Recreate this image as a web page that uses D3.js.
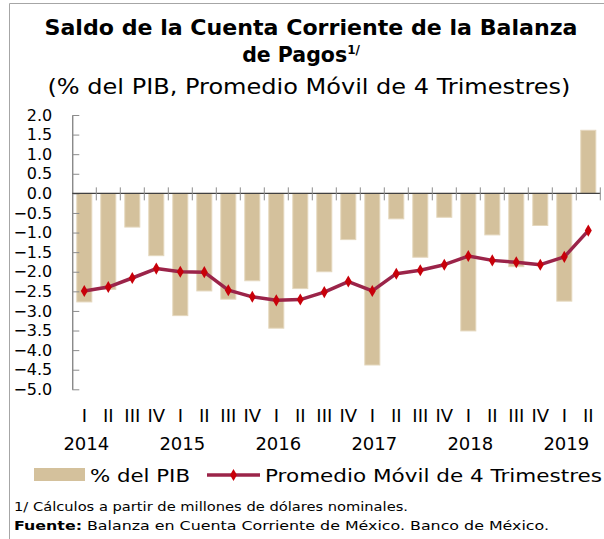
<!DOCTYPE html>
<html>
<head>
<meta charset="utf-8">
<script src="https://cdn.jsdelivr.net/npm/d3@7"></script>
<style>
  html, body { margin: 0; padding: 0; background: #fff; }
  svg { display: block; font-family: "DejaVu Sans", "Noto Sans", sans-serif; }
</style>
</head>
<body>
<div id="chart"></div>
<script>
// Quarterly current-account balance, % of GDP, 2014 Q1 – 2019 Q2
const quarters = ["I","II","III","IV","I","II","III","IV","I","II","III","IV",
                  "I","II","III","IV","I","II","III","IV","I","II"];
const years = ["2014","2015","2016","2017","2018","2019"];
const pctPIB = [-2.77,-2.45,-0.86,-1.59,-3.12,-2.49,-2.70,-2.23,-3.44,-2.43,-2.00,-1.18,
                -4.38,-0.65,-1.63,-0.61,-3.51,-1.06,-1.87,-0.82,-2.75,1.61];
const promedioMovil = [-2.49,-2.39,-2.16,-1.92,-2.00,-2.01,-2.47,-2.64,-2.73,-2.71,-2.52,-2.25,
                       -2.49,-2.05,-1.96,-1.82,-1.60,-1.71,-1.76,-1.82,-1.62,-0.95];
const yTicks = d3.range(-5, 2.01, 0.5);

const W = 604, H = 539;
const svg = d3.select("#chart").append("svg").attr("width", W).attr("height", H);

// Frame
svg.append("path")
  .attr("d", "M9.5,539 V3.5 H604")
  .attr("fill", "none").attr("stroke", "#a6a6a6").attr("stroke-width", 1);

// Titles
svg.append("text").attr("x", 311).attr("y", 35).attr("text-anchor", "middle")
  .attr("font-size", 20.5).attr("font-weight", 700).attr("fill", "#000")
  .attr("textLength", 533).attr("lengthAdjust", "spacingAndGlyphs")
  .text("Saldo de la Cuenta Corriente de la Balanza");
const t2 = svg.append("text").attr("x", 301).attr("y", 62).attr("text-anchor", "middle")
  .attr("font-size", 20.5).attr("font-weight", 700).attr("fill", "#000");
t2.append("tspan").text("de Pagos");
t2.append("tspan").attr("font-size", 12).attr("dy", -8).text("1/");
svg.append("text").attr("x", 309).attr("y", 94).attr("text-anchor", "middle")
  .attr("font-size", 20.5).attr("fill", "#000")
  .attr("textLength", 523).attr("lengthAdjust", "spacingAndGlyphs")
  .text("(% del PIB, Promedio Móvil de 4 Trimestres)");

// Scales
const x = d3.scaleBand().domain(d3.range(pctPIB.length))
  .range([72.3, 600.3]).paddingInner(0.375).paddingOuter(0.1875);
const step = x.step();
const y = d3.scaleLinear().domain([-5, 2]).range([389.3, 115]);

// Bars
svg.append("g").selectAll("rect").data(pctPIB).join("rect")
  .attr("x", (d, i) => x(i))
  .attr("width", x.bandwidth())
  .attr("y", d => y(Math.max(0, d)))
  .attr("height", d => Math.abs(y(d) - y(0)))
  .attr("fill", "#d4c19c")
  .attr("stroke", "#e4d7bd").attr("stroke-width", 1);

// Y axis
const yAxis = d3.axisLeft(y).tickValues(yTicks).tickFormat(d3.format(".1f"))
  .tickSizeInner(-7).tickSizeOuter(0).tickPadding(20);
const gy = svg.append("g").attr("transform", "translate(72.3,0)").call(yAxis);
gy.select(".domain").attr("stroke", "#595959");
gy.selectAll(".tick line").attr("stroke", "#8c8c8c");
gy.selectAll(".tick text").attr("font-size", 16).attr("fill", "#000")
  .attr("font-family", "'DejaVu Sans', sans-serif")
  .text(d => (Math.abs(d) < 1e-9 ? "0.0" : d3.format(".1f")(d)));

// Zero line with category boundary ticks
const bounds = d3.range(1, pctPIB.length + 1).map(i => 72.3 + i * step);
svg.append("line").attr("x1", 72.3).attr("x2", 600.3)
  .attr("y1", y(0)).attr("y2", y(0)).attr("stroke", "#404040").attr("stroke-width", 1.3);
svg.append("g").selectAll("line").data(bounds).join("line")
  .attr("x1", d => d).attr("x2", d => d)
  .attr("y1", y(0) - 6).attr("y2", y(0) + 7)
  .attr("stroke", "#8c8c8c").attr("stroke-width", 1);

// Moving average line
const cx = i => x(i) + x.bandwidth() / 2;
svg.append("path").datum(promedioMovil)
  .attr("d", d3.line().x((d, i) => cx(i)).y(d => y(d)))
  .attr("fill", "none").attr("stroke", "#9b2449").attr("stroke-width", 3.5)
  .attr("stroke-linejoin", "round");
const diamond = d3.symbol().type(d3.symbolDiamond).size(42);
svg.append("g").selectAll("path").data(promedioMovil).join("path")
  .attr("transform", (d, i) => `translate(${cx(i)},${y(d)})`)
  .attr("d", diamond).attr("fill", "#c8000a");

// Category labels
svg.append("g").selectAll("text").data(quarters).join("text")
  .attr("x", (d, i) => cx(i)).attr("y", 422).attr("text-anchor", "middle")
  .attr("font-size", 18).attr("fill", "#000").text(d => d);
svg.append("g").selectAll("text").data(years).join("text")
  .attr("x", (d, i) => cx(i * 4) + 2).attr("y", 450).attr("text-anchor", "middle")
  .attr("font-size", 18).attr("fill", "#000").text(d => d);

// Legend
svg.append("rect").attr("x", 34).attr("y", 468).attr("width", 51).attr("height", 13)
  .attr("fill", "#d4c19c");
svg.append("text").attr("x", 90).attr("y", 482).attr("font-size", 18).attr("fill", "#000")
  .attr("textLength", 100).attr("lengthAdjust", "spacingAndGlyphs")
  .text("% del PIB");
svg.append("line").attr("x1", 207).attr("x2", 260).attr("y1", 475).attr("y2", 475)
  .attr("stroke", "#9b2449").attr("stroke-width", 3.5);
svg.append("path").attr("transform", "translate(233.5,475)").attr("d", diamond)
  .attr("fill", "#c8000a");
svg.append("text").attr("x", 265).attr("y", 482).attr("font-size", 18).attr("fill", "#000")
  .attr("textLength", 337).attr("lengthAdjust", "spacingAndGlyphs")
  .text("Promedio Móvil de 4 Trimestres");

// Notes
svg.append("text").attr("x", 14).attr("y", 511).attr("font-size", 13).attr("fill", "#000")
  .attr("textLength", 394).attr("lengthAdjust", "spacingAndGlyphs")
  .text("1/ Cálculos a partir de millones de dólares nominales.");
const src = svg.append("text").attr("x", 14).attr("y", 530).attr("font-size", 13)
  .attr("fill", "#000").attr("textLength", 535).attr("lengthAdjust", "spacingAndGlyphs");
src.append("tspan").attr("font-weight", 700).text("Fuente:");
src.append("tspan").text(" Balanza en Cuenta Corriente de México. Banco de México.");
</script>
</body>
</html>
